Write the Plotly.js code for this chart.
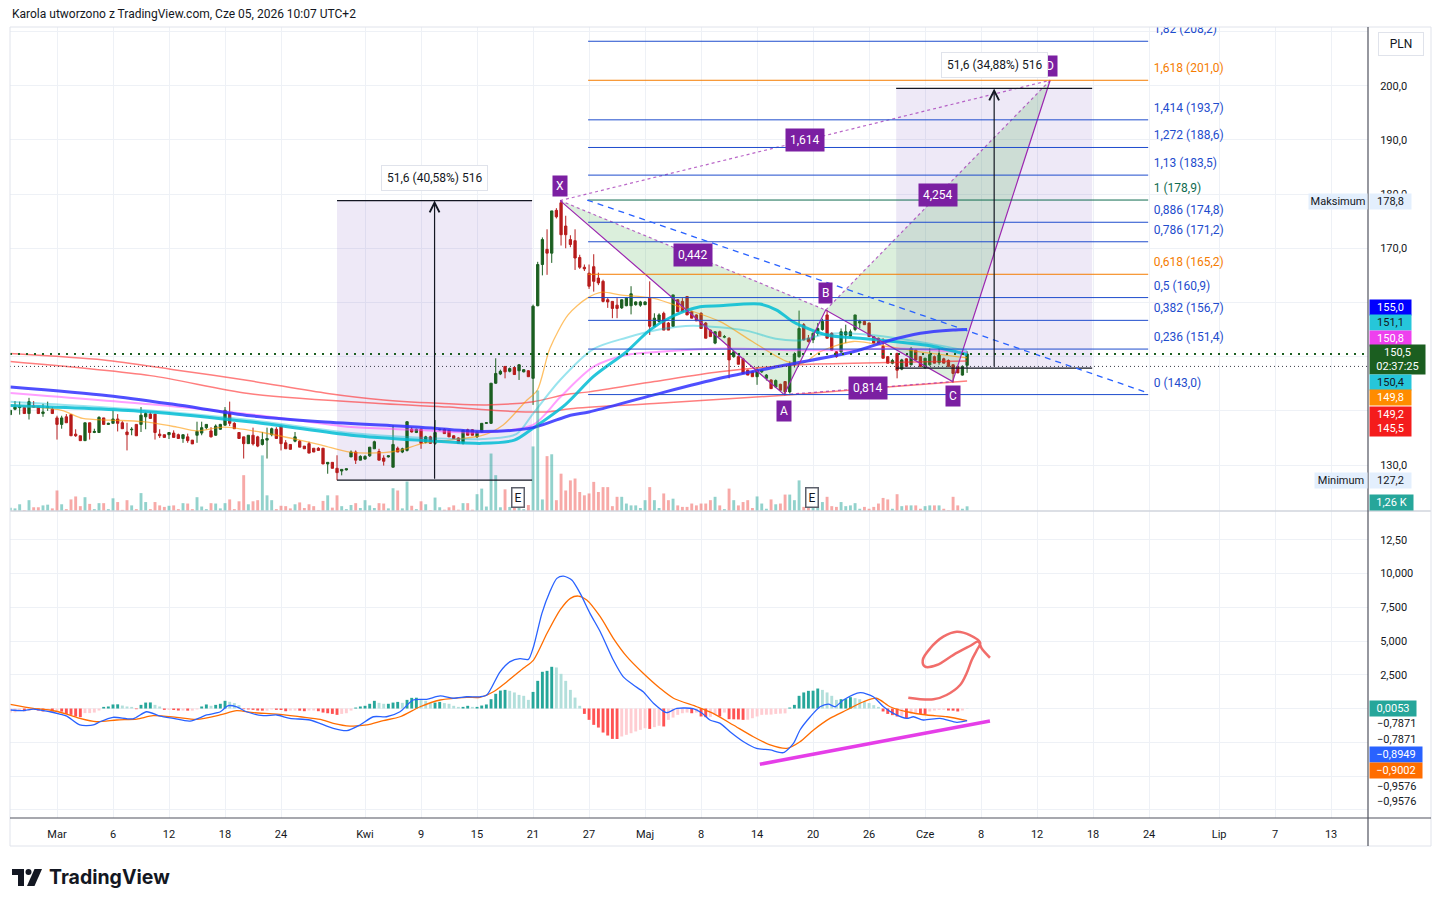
<!DOCTYPE html>
<html><head><meta charset="utf-8">
<script src="https://cdn.plot.ly/plotly-3.0.1.min.js"></script>
<style>html,body{margin:0;padding:0;background:#fff;}#chart{width:1441px;height:907px;}</style>
</head><body><div id="chart"></div>
<script>
// ---------------- DATA (3-hour bars, first bar index = -10; bar 0 = 2 Mar 2026) ----------------
const FIRST_BAR = -10;
const openP = [
139.3,140.3,140.6,140.6,139.5,140.9,140.7,139.5,140.6,140.3,
138.7,137.5,138.9,139.3,135.7,135.4,134.5,137.8,136.0,136.0,
138.7,137.5,137.7,138.5,137.8,136.1,136.5,137.5,137.5,138.9,
139.4,139.4,135.7,135.6,135.6,135.9,135.6,134.9,135.2,134.6,
135.5,135.9,136.9,136.3,135.5,136.6,137.35,139.5,137.7,136.0,
135.2,133.95,135.5,135.2,133.8,134.6,135.6,136.6,137.2,134.1,
133.8,134.4,134.4,133.5,133.95,133.1,133.1,133.1,130.2,130.5,
129.4,128.9,129.1,131.5,132.4,130.9,131.1,131.7,133.0,132.5,
131.3,131.5,129.6,133.1,132.4,132.7,136.6,136.0,136.6,134.2,
135.2,134.0,136.5,136.6,136.4,135.4,135.0,134.0,136.5,136.5,
135.2,136.1,137.7,137.7,145.1,146.8,148.2,147.3,148.0,147.4,
147.2,147.4,146.0,159.4,167.0,169.8,169.1,177.0,178.4,174.1,
171.6,171.4,168.3,166.5,165.4,166.6,164.5,163.9,160.5,160.2,
159.5,159.0,159.4,159.4,159.6,159.5,159.6,160.8,155.6,156.5,
158.0,156.2,155.6,160.5,160.2,161.1,158.3,157.7,158.0,156.2,
154.9,152.5,154.6,153.6,153.4,150.0,150.0,149.6,147.5,147.2,
146.3,147.2,146.0,145.7,144.4,144.9,145.4,143.5,148.5,150.0,
155.9,153.4,153.1,154.3,155.0,157.7,154.3,150.9,150.9,154.0,
153.8,155.0,156.2,156.5,156.2,153.7,153.4,151.9,150.0,148.8,
150.6,147.7,149.6,148.5,151.2,150.0,147.9,148.5,150.0,148.9,
149.6,149.3,148.5,148.2,146.6,148.4];
const highP = [
140.1,141.8,141.7,140.6,142.4,141.8,140.7,141.3,141.7,140.7,
139.1,139.1,139.4,139.3,136.6,135.4,137.8,137.8,136.7,139.0,
138.7,137.8,140.1,139.4,138.1,137.8,137.0,137.5,140.7,139.8,
139.8,139.4,136.6,135.6,136.0,136.4,135.8,135.6,135.8,134.6,
138.0,138.0,137.5,137.0,137.5,137.6,140.7,141.7,137.9,136.0,
135.2,135.5,136.9,135.4,136.1,136.9,136.9,137.0,137.2,134.6,
133.8,136.1,134.6,133.5,134.3,133.1,133.3,133.1,130.5,130.5,
131.8,129.2,129.3,132.7,132.7,131.8,131.8,133.3,134.5,133.0,
131.8,131.8,137.35,133.4,133.2,138.0,137.0,136.7,136.8,135.4,
135.4,138.3,136.7,136.8,136.5,135.5,135.1,136.5,136.7,136.6,
136.2,137.7,137.9,145.1,149.7,147.6,148.2,148.0,148.1,148.6,
147.7,147.5,159.6,167.5,172.0,173.5,176.9,177.4,178.8,176.0,
172.4,173.5,168.8,167.0,167.0,168.9,165.5,164.2,160.8,160.2,
160.8,160.6,161.0,163.0,160.2,160.3,160.2,163.9,158.0,158.0,
158.3,156.4,161.4,160.6,160.8,161.2,158.5,157.8,158.2,156.4,
155.0,154.7,154.8,154.0,153.6,151.0,150.2,149.8,147.6,147.3,
148.1,147.6,146.8,145.8,145.8,145.0,145.5,149.1,150.8,158.5,
156.2,154.0,154.5,156.2,157.0,158.6,154.5,151.0,155.2,155.9,
155.0,157.7,156.8,156.7,156.3,153.8,153.5,153.4,150.1,149.6,
150.7,149.6,149.7,151.8,151.3,150.1,149.8,151.5,150.2,151.5,
149.8,149.5,148.6,148.3,148.4,151.0];
const lowP = [
139.3,140.1,139.3,139.5,138.4,140.6,139.5,138.9,140.0,139.5,
134.7,136.7,137.8,135.4,135.2,134.5,134.5,134.7,135.9,136.0,
137.5,137.4,137.7,136.2,136.7,132.7,135.5,135.4,136.1,136.6,
138.5,134.7,135.0,135.1,134.8,135.1,134.9,134.1,134.1,133.9,
134.1,135.5,136.6,135.1,135.4,136.5,137.35,137.2,136.7,134.9,
131.2,133.95,133.6,133.3,133.6,131.2,135.3,134.9,132.7,133.0,
132.9,134.2,133.3,133.0,132.2,132.4,132.7,130.2,128.4,129.4,
127.2,128.1,129.0,131.5,130.2,130.9,131.0,131.5,133.0,130.9,
129.9,131.4,129.6,132.4,132.2,132.5,136.0,135.9,133.0,134.0,
134.0,133.7,136.4,135.8,135.2,134.9,134.0,133.8,135.5,135.5,
135.0,136.0,137.6,137.6,145.0,146.6,146.0,147.1,146.7,145.7,
147.1,146.3,141.1,159.3,165.0,165.1,167.3,175.5,170.5,170.0,
170.2,166.0,166.2,165.8,162.5,162.0,163.2,160.0,159.0,157.1,
157.1,158.8,159.3,157.8,159.4,159.2,159.5,154.0,155.5,156.3,
154.9,154.9,155.5,158.3,158.3,157.7,157.1,156.6,155.2,153.4,
153.7,152.3,153.7,153.4,146.0,149.8,148.6,146.9,146.6,146.3,
144.8,147.0,145.6,144.1,144.2,143.8,143.0,143.2,148.0,149.8,
153.0,152.6,152.5,153.8,154.8,153.4,151.2,149.8,150.6,152.5,
153.5,154.7,155.2,155.9,153.7,152.5,152.5,149.7,148.8,148.6,
146.0,147.5,148.2,148.4,149.4,148.2,147.8,148.3,148.8,148.5,
148.8,148.2,145.2,147.0,146.5,147.0];
const closeP = [
140.1,140.7,140.7,139.5,141.7,140.7,139.5,139.8,140.7,139.5,
137.5,138.7,137.8,135.4,135.4,134.5,137.8,136.0,136.2,138.8,
137.5,137.7,138.5,137.7,136.7,135.6,136.6,135.4,139.2,139.5,
138.6,136.0,135.4,135.1,136.0,135.1,134.9,135.6,134.5,133.9,
136.2,136.9,137.5,135.2,137.2,137.5,140.1,137.7,136.7,134.9,
133.95,135.5,133.9,133.5,134.7,134.9,136.7,134.9,133.95,133.0,
132.9,135.2,133.3,133.0,132.2,132.4,132.7,130.2,130.5,129.4,
128.6,129.2,129.3,132.4,130.9,131.6,131.6,133.3,134.3,130.9,
130.7,131.7,133.8,132.4,133.0,138.0,136.1,136.6,134.0,135.2,
134.0,136.0,136.6,135.8,135.2,134.9,134.0,136.4,135.5,135.5,
136.1,137.7,137.8,145.1,146.9,147.3,147.2,147.8,146.7,148.5,
147.6,146.3,159.3,167.0,171.6,169.1,176.9,175.8,172.5,172.5,
170.7,168.2,166.5,166.2,163.0,163.9,163.6,160.2,160.1,158.9,
158.9,160.5,160.8,161.6,160.1,160.1,160.1,155.6,157.1,157.7,
154.9,154.9,161.4,158.3,158.3,157.7,157.1,156.6,155.2,153.4,
153.7,154.6,153.7,153.7,149.4,150.9,148.6,146.9,146.6,146.3,
147.5,147.5,146.6,144.1,145.6,143.8,143.5,148.5,150.5,155.2,
153.1,152.8,154.3,155.2,156.5,153.4,151.2,150.0,154.6,154.6,
154.6,157.7,156.5,155.9,153.7,152.5,152.5,149.7,148.8,149.3,
147.5,149.4,148.2,151.5,149.4,148.2,149.7,150.4,148.8,150.3,
148.8,148.2,146.9,147.0,148.2,150.5];
// volume in thousands
const volumeK = [
0.9,0.7,1.8,0.2,2.9,1.0,1.0,1.5,1.7,0.7,
5.5,1.8,0.5,3.1,3.9,1.3,3.7,1.9,0.5,2.1,
2.1,0.5,3.4,2.4,0.3,2.9,1.5,0.5,4.8,2.4,
0.5,2.4,1.5,1.1,1.4,1.5,0.5,2.1,2.0,0.5,
3.7,1.2,0.5,2.1,2.0,0.7,2.1,3.1,0.5,2.6,
9.6,1.8,2.6,2.9,14.9,4.2,2.9,0.5,1.4,1.3,
0.7,1.8,2.3,0.8,1.8,1.3,0.2,2.7,4.2,0.9,
4.2,1.3,0.5,1.6,2.1,0.8,2.9,1.5,0.8,2.1,
2.0,0.7,6.1,5.5,0.7,7.9,1.4,0.5,2.6,1.8,
0.2,3.6,1.0,0.35,1.0,1.5,0.35,2.1,2.1,0.35,
4.5,6.0,1.2,15.4,9.6,1.0,5.8,1.1,0.8,1.3,
0.5,1.6,17.3,32.3,3.1,14.7,15.2,2.9,10.0,5.5,
8.2,8.7,5.1,4.2,4.7,7.8,5.1,6.4,6.4,1.3,
3.8,3.8,2.0,1.5,1.5,0.8,2.9,6.4,2.9,0.8,
4.7,2.9,3.3,1.5,1.1,1.1,2.0,1.5,2.0,2.0,
2.9,3.8,1.5,0.5,6.0,2.9,1.5,2.4,2.9,0.8,
3.9,2.0,0.6,3.1,1.8,2.0,4.4,4.4,2.9,8.2,
1.1,1.3,1.3,1.3,2.4,3.8,1.3,1.1,2.4,1.3,
1.5,2.1,0.6,1.1,0.6,1.1,2.0,3.5,3.1,0.6,
4.5,1.3,1.5,1.5,1.5,0.6,1.3,1.5,1.5,1.5,
0.6,0.2,3.8,1.5,0.6,1.26];
// MACD histogram per bar
const macdHist = [
-0.30,-0.28,-0.15,-0.20,-0.18,-0.10,-0.15,-0.22,-0.15,-0.22,
-0.22,-0.23,-0.40,-0.47,-0.59,-0.64,-0.34,-0.34,-0.30,-0.15,
0.12,0.15,0.30,0.31,0.22,0.15,0.12,-0.05,0.27,0.44,
0.45,0.27,0.15,-0.10,-0.10,-0.11,-0.15,-0.15,-0.16,-0.16,
-0.07,0.15,0.30,0.20,0.27,0.35,0.57,0.50,0.40,0.25,
-0.05,-0.07,-0.10,-0.15,-0.16,-0.16,-0.07,-0.10,-0.11,-0.20,
-0.15,-0.15,-0.16,-0.20,-0.15,-0.15,-0.20,-0.30,-0.35,-0.40,
-0.47,-0.40,-0.35,-0.15,0.07,0.15,0.20,0.35,0.57,0.42,
0.35,0.35,0.44,0.49,0.42,0.64,0.79,0.80,0.64,0.57,
0.40,0.44,0.49,0.40,0.35,0.20,0.12,0.12,0.20,0.12,
0.12,0.22,0.30,0.69,1.09,1.33,1.38,1.31,1.19,1.01,
0.94,0.64,1.23,2.05,2.72,2.79,3.09,3.04,2.57,2.05,
1.38,0.81,0.20,-0.40,-0.84,-1.21,-1.41,-1.78,-2.00,-2.25,
-2.26,-2.07,-1.95,-1.83,-1.70,-1.58,-1.46,-1.51,-1.38,-1.28,
-1.33,-0.84,-0.67,-0.47,-0.35,-0.30,-0.35,-0.30,-0.59,-0.64,
-0.62,-0.47,-0.59,-0.30,-0.79,-0.80,-0.81,-0.84,-0.83,-0.72,
-0.59,-0.47,-0.46,-0.45,-0.40,-0.38,-0.36,0.07,0.27,0.94,
1.19,1.31,1.32,1.48,1.38,1.19,0.94,0.64,0.69,0.70,
0.84,0.77,0.69,0.52,0.40,0.25,0.12,-0.22,-0.40,-0.49,
-0.59,-0.54,-0.72,-0.40,-0.35,-0.40,-0.41,-0.22,-0.15,-0.10,
-0.09,-0.15,-0.16,-0.22,-0.15,0.0053];
// MACD and signal lines (read at points along the curves)
const macdBars = [-10,-7.2,-5.1,-1.5,0.6,2.1,4.9,7.8,9.2,12,16.3,19.2,22.1,24.9,28.5,32.1,35,36.7,38.5,40.6,44.2,47.1,49.9,54.2,59.2,62.1,64.9,67.8,70.6,73.5,76.3,79.2,82.1,84.9,87.8,90.6,92.1,94.9,97.1,99.2,101,102.1,103.9,105.6,107.1,108.5,110.3,112.1,114.2,116.4,119.2,121.3,123.5,125.6,127.8,130.6,132.8,136.3,138.1,139.9,142.1,144.2,147.1,149.9,152.8,155.6,157.8,159.2,161.4,163.5,165.3,166.7,168.5,172.1,174.9,177.1,179.2,182.1,183.5,185.6,189.2,192.8,195];
const macdVals = [-0.11,-0.16,-0.04,-0.24,-0.41,-0.56,-1.22,-1.22,-0.98,-0.65,-0.76,-0.24,-0.56,-0.73,-0.93,-0.48,-0.24,0.21,0.13,-0.24,-0.53,-0.48,-0.73,-0.85,-1.47,-1.64,-1.22,-0.61,-0.61,-0.24,0.63,0.68,0.93,0.76,0.87,0.87,1.0,2.7,3.47,3.69,3.64,4.58,7.05,8.65,9.64,9.81,9.52,8.53,7.05,5.69,3.59,2.36,1.74,1.24,0.39,-0.31,0.01,-0.01,-0.31,-0.85,-1.10,-1.72,-2.46,-2.95,-3.07,-3.27,-2.58,-1.59,-0.61,0.13,0.33,0.13,0.63,1.17,0.87,0.13,-0.36,-0.73,-0.61,-0.85,-0.73,-1.02,-0.8949];
const signalBars = [-10,-5.1,-1.5,2.1,4.9,8.5,12.8,17.1,20.6,25.6,29.9,34.9,38.5,42.1,47.1,52.1,56.4,59.2,62.8,66.4,69.9,73.5,77.8,82.1,87.8,90.6,93.5,96.4,99.9,102.1,105,107.8,110,111.7,113.5,116.4,119.2,122.1,125.6,129.2,132.1,137.1,140.6,144.9,149.2,152.8,156.4,159.2,162.1,165.6,169.2,172.8,175.6,178.5,182.1,186.4,190.7,195];
const signalVals = [0.31,0.01,-0.11,-0.41,-0.73,-0.98,-0.85,-0.78,-0.53,-0.65,-0.80,-0.48,-0.16,-0.31,-0.41,-0.61,-0.80,-1.10,-1.30,-1.22,-0.90,-0.61,0.13,0.63,0.83,0.83,1.24,1.99,2.98,3.59,5.57,7.30,8.16,8.33,8.04,6.80,5.20,3.84,2.61,1.50,0.76,0.13,-0.36,-1.22,-2.09,-2.70,-2.95,-2.46,-1.59,-0.73,-0.11,0.50,0.76,0.13,-0.24,-0.48,-0.61,-0.9002];
// moving averages (read at points along each curve)
const maBlueBars = [-10,11,25,41.4,56.6,77,91.3,102,110,114,127.7,142,156.4,170.6,178,185,192,195];
const maBlueVals = [144.4,142.8,141.2,139.1,138.0,137.0,136.2,136.9,139.2,139.8,142.9,146.0,148.5,150.9,152.9,154.3,154.9,155.0];
const maCyanBars = [-10,18.5,43,63,77,91,98,102,109,114.9,122,127,132,137.8,142,150.6,154.2,157.8,164.9,172,179.2,186.4,195];
const maCyanVals = [141.0,139.9,137.8,135.5,134.6,134.0,134.6,136.8,141.2,146.3,150.9,154.9,157.5,159.2,159.4,159.7,158.6,156.4,154.0,153.4,152.8,152.1,150.4];
const maPaleBars = [-10,18,41.4,63,77,91.3,98.4,102,107.8,114.9,122,129,136.2,147.6,154,159,164.9,172,179.2,186.4,195];
const maPaleVals = [141.7,140.2,138.3,135.9,135.1,134.8,135.7,139.5,145.7,151.4,153.5,155.0,155.7,154.8,153.3,153.0,154.2,154.2,153.5,152.5,151.1];
const maPinkBars = [-10,20,43,63,77,91.3,102,107.8,114.9,122,129,143.3,157.6,168.3,179,195];
const maPinkVals = [143.3,141.2,139.2,137.0,136.5,136.0,137.4,142.5,148.1,150.3,150.9,151.5,151.2,151.2,151.5,150.8];
const maOrangeBars = [-10,1,5.5,11.4,18.4,25.7,30,35.6,43.5,52,57,62.8,70,73.5,78.4,84.2,91.3,95.6,100.7,102.9,105.6,109.5,113.6,116.8,120.6,127.7,135,142,149,156.4,159.9,163.5,170.6,177.8,184.9,195];
const maOrangeVals = [141.0,140.1,138.6,138.3,138.0,137.0,136.3,137.0,136.1,134.6,133.6,132.4,132.3,132.7,134.0,134.6,135.5,137.4,142.0,143.8,151.5,157.7,160.8,161.9,161.4,160.8,158.7,156.5,152.8,149.1,148.8,150.9,152.8,151.9,150.9,149.8];
const maRed1Bars = [-10,10,25,41,58,70,84,92,102,109,114,128,142,159,178,195];
const maRed1Vals = [150.6,149.4,147.6,145.6,143.2,142.0,141.3,141.1,141.7,143.0,143.5,145.4,147.2,148.5,148.9,149.2];
const maRed2Bars = [-10,20,41,70,84,95,105,110,128,156,178,195];
const maRed2Vals = [149.1,146.5,143.2,141.3,140.7,140.0,139.8,140.4,141.35,142.9,144.4,145.5];
// x-axis ticks
const tickBars = [0,12,24,36,48,66,78,90,102,114,126,138,150,162,174,186,198,210,222,234,249,261,273];
const tickLabels = ['Mar','6','12','18','24','Kwi','9','15','21','27','Maj','8','14','20','26','Cze','8','12','18','24','Lip','7','13'];
// price-scale ticks (labels hidden where the reference covers them with value tags)
const priceTicks = [130,140,150,160,170,180,190,200,210];
const priceTickText = ['130,0','','','','170,0','180,0','190,0','200,0',''];
const macdTicks = [-7.5,-5,-2.5,0,2.5,5,7.5,10,12.5];
const macdTickText = ['','','','','2,500','5,000','7,500','10,000','12,50'];
// drawings
const fibRatios = [0,0.236,0.382,0.5,0.618,0.786,0.886,1,1.13,1.272,1.414,1.618,1.82];
const fibPrices = [143.0,151.4,156.7,160.9,165.2,171.2,174.8,178.9,183.5,188.6,193.7,201.0,208.2];
const fibBars = [113.8,233.8];
const xabcdBars = [107.8,155.8,164.7,191.9,212.8];
const xabcdVals = [178.8,143.0,158.6,145.4,201.0];
const xabcdNames = ['X','A','B','C','D'];
const xabcdRatioPairs = [[0,2],[1,3],[2,4],[0,4]];
const xabcdRatioText = ['0,442','0,814','4,254','1,614'];
const trendBars = [113.6,233.8];
const trendVals = [178.9,143.3];
const rangeBarsFrom = [60,179.8];
const rangeBarsTo = [101.8,221.8];
const rangeLow = [127.2,147.9];
const rangeHigh = [178.8,199.5];
const rangeText = ['51,6 (40,58%) 516','51,6 (34,88%) 516'];
const earningsBars = [98.8,161.8];
const macdTrendBars = [150.6,199.9];
const macdTrendVals = [-4.13,-0.93];
const scribbleBars = [182.4,187.8,190.6,193.5,194.9,196.0,197.1,197.8,195.6,192.8,189.9,187.1,185.5,186.0,188.5,192.0,195.6,197.4,198.1,199.9];
const scribbleVals = [0.80,0.68,1.0,1.74,2.61,3.59,4.33,4.87,5.44,5.69,5.32,4.46,3.59,3.10,3.22,3.96,4.63,4.95,4.46,3.76];
const lastPrice = 150.5;

// ---------------- RENDER ----------------
const FONT = 'Roboto, "Liberation Sans", Arial, sans-serif';
const GRID = '#eef1f6';
const L=10, R=1368, T=27, B=818;
const px = x => (x-L)/(R-L);
const py = y => (B-y)/(B-T);
const SPLIT = py(511);
const PRICE_PER_PX = (210.83-121.52)/(511-27);

const bars = openP.map((_,i)=>FIRST_BAR+i);
const volColors = closeP.map((c,i)=> c>=openP[i] ? 'rgba(38,166,154,0.5)' : 'rgba(239,83,80,0.5)');
const histColors = macdHist.map((v,i)=>{const p=i>0?macdHist[i-1]:v; if(v>=0) return v>=p?'#26a69a':'#b2dfdb'; return v<p?'#ff5252':'#ffcdd2';});
const prevClose = closeP[closeP.length-2];

const traces = [];
[[0,1,2],[2,3,4]].forEach(tri=>{
  traces.push({type:'scatter',mode:'lines',x:[...tri.map(i=>xabcdBars[i]),xabcdBars[tri[0]]],
    y:[...tri.map(i=>xabcdVals[i]),xabcdVals[tri[0]]],fill:'toself',fillcolor:'rgba(76,175,80,0.2)',
    line:{width:0},xaxis:'x',yaxis:'y',hoverinfo:'skip'});
});
function ma(xs,ys,color,width){traces.push({type:'scatter',mode:'lines',x:xs,y:ys,xaxis:'x',yaxis:'y',
  line:{color:color,width:width,shape:'spline',smoothing:0.8},hoverinfo:'skip'});}
ma(maRed2Bars,maRed2Vals,'rgba(255,40,40,0.6)',1.5);
ma(maRed1Bars,maRed1Vals,'rgba(255,40,40,0.6)',1.5);
ma(maOrangeBars,maOrangeVals,'rgba(255,152,0,0.6)',1.3);
ma(maPinkBars,maPinkVals,'rgba(255,64,255,0.5)',2);
ma(maPaleBars,maPaleVals,'rgba(0,188,212,0.4)',2);
ma(maCyanBars,maCyanVals,'rgba(0,188,212,0.85)',3);
ma(maBlueBars,maBlueVals,'rgba(48,48,255,0.85)',3);
traces.push({type:'candlestick',x:bars,open:openP,high:highP,low:lowP,close:closeP,xaxis:'x',yaxis:'y',
  increasing:{line:{color:'#1b5e20',width:1},fillcolor:'#1b5e20'},
  decreasing:{line:{color:'#b71c1c',width:1},fillcolor:'#b71c1c'},whiskerwidth:0,hoverinfo:'skip'});
traces.push({type:'scatter',mode:'lines',x:xabcdBars,y:xabcdVals,xaxis:'x',yaxis:'y',line:{color:'#9c27b0',width:1.2},hoverinfo:'skip'});
xabcdRatioPairs.forEach(p=>{
  traces.push({type:'scatter',mode:'lines',x:[xabcdBars[p[0]],xabcdBars[p[1]]],y:[xabcdVals[p[0]],xabcdVals[p[1]]],
    xaxis:'x',yaxis:'y',line:{color:'rgba(156,39,176,0.7)',width:1.2,dash:'dot'},hoverinfo:'skip'});
});
const fibColor = r => (r===0.618||r===1.618)?'#f57c00':(r===1?'#0f6b4f':'#1e4ccd');
traces.push({type:'scatter',mode:'text',x:fibPrices.map(()=>fibBars[1]+1.2),y:fibPrices.map(p=>p+5*PRICE_PER_PX),
  text:fibRatios.map((r,i)=>String(r).replace('.',',')+' ('+fibPrices[i].toFixed(1).replace('.',',')+')'),
  textposition:'top right',textfont:{family:FONT,size:12,color:fibRatios.map(fibColor)},xaxis:'x',yaxis:'y',cliponaxis:true,hoverinfo:'skip'});
traces.push({type:'bar',x:bars,y:volumeK,width:0.62,marker:{color:volColors,line:{width:0}},xaxis:'x',yaxis:'y3',hoverinfo:'skip'});
traces.push({type:'bar',x:bars,y:macdHist,width:0.62,marker:{color:histColors,line:{width:0}},xaxis:'x',yaxis:'y2',hoverinfo:'skip'});
traces.push({type:'scatter',mode:'lines',x:signalBars,y:signalVals,xaxis:'x',yaxis:'y2',line:{color:'#ff6d00',width:1.3,shape:'spline',smoothing:0.7},hoverinfo:'skip'});
traces.push({type:'scatter',mode:'lines',x:macdBars,y:macdVals,xaxis:'x',yaxis:'y2',line:{color:'#2962ff',width:1.3,shape:'spline',smoothing:0.7},hoverinfo:'skip'});
traces.push({type:'scatter',mode:'lines',x:macdTrendBars,y:macdTrendVals,xaxis:'x',yaxis:'y2',line:{color:'#e53ee8',width:3.5},hoverinfo:'skip'});
traces.push({type:'scatter',mode:'lines',x:scribbleBars,y:scribbleVals,xaxis:'x',yaxis:'y2',line:{color:'rgba(239,83,80,0.85)',width:2.5,shape:'spline',smoothing:1},hoverinfo:'skip'});

const shapes = [];
rangeBarsFrom.forEach((b0,i)=>{
  shapes.push({type:'rect',xref:'x',yref:'y',x0:b0,x1:rangeBarsTo[i],y0:rangeLow[i],y1:rangeHigh[i],fillcolor:'rgba(103,58,183,0.11)',line:{width:0},layer:'between'});
  [rangeLow[i],rangeHigh[i]].forEach(v=>shapes.push({type:'line',xref:'x',yref:'y',x0:b0,x1:rangeBarsTo[i],y0:v,y1:v,line:{color:'#131722',width:1.2},layer:'above'}));
});
fibPrices.forEach((p,i)=>{
  shapes.push({type:'line',xref:'x',yref:'y',x0:fibBars[0],x1:fibBars[1],y0:p,y1:p,line:{color:fibColor(fibRatios[i]),width:1},layer:'above'});
});
shapes.push({type:'line',xref:'x',yref:'y',x0:trendBars[0],x1:trendBars[1],y0:trendVals[0],y1:trendVals[1],line:{color:'#2962ff',width:1.3,dash:'6px,5px'},layer:'above'});
shapes.push({type:'line',xref:'paper',yref:'y',x0:0,x1:1,y0:lastPrice,y1:lastPrice,line:{color:'#1b5e20',width:2,dash:'2px,6px'},layer:'above'});
shapes.push({type:'line',xref:'paper',yref:'y',x0:0,x1:1,y0:prevClose,y1:prevClose,line:{color:'#3a3d48',width:1,dash:'1px,3px'},layer:'above'});
const XR = px(1431);
shapes.push({type:'line',xref:'paper',yref:'paper',x0:0,x1:XR,y0:SPLIT,y1:SPLIT,line:{color:'#d1d4dc',width:1.5}});
shapes.push({type:'rect',xref:'paper',yref:'paper',x0:0,x1:XR,y0:py(846),y1:1,line:{color:'#e0e3eb',width:1}});
shapes.push({type:'line',xref:'paper',yref:'paper',x0:0,x1:XR,y0:0,y1:0,line:{color:'#50535e',width:1.2}});
shapes.push({type:'line',xref:'paper',yref:'paper',x0:1,x1:1,y0:py(846),y1:1,line:{color:'#50535e',width:1.2}});
const P=(x,y)=>px(x)+','+py(y);
shapes.push({type:'path',xref:'paper',yref:'paper',path:'M'+P(12,869)+'L'+P(24,869)+'L'+P(24,886)+'L'+P(18,886)+'L'+P(18,875)+'L'+P(12,875)+'Z',fillcolor:'#131722',line:{width:0}});
shapes.push({type:'circle',xref:'paper',yref:'paper',x0:px(25.5),x1:px(31.5),y0:py(875),y1:py(869),fillcolor:'#131722',line:{width:0}});
shapes.push({type:'path',xref:'paper',yref:'paper',path:'M'+P(27,886)+'L'+P(34.5,869)+'L'+P(42,869)+'L'+P(34.5,886)+'Z',fillcolor:'#131722',line:{width:0}});

const ann = [];
ann.push({xref:'paper',yref:'paper',x:0,y:py(14),xanchor:'left',yanchor:'middle',showarrow:false,
  text:'Karola utworzono z TradingView.com, Cze 05, 2026 10:07 UTC+2',font:{family:FONT,size:12,color:'#131722'}});
ann.push({xref:'paper',yref:'paper',x:px(47),y:py(877),xanchor:'left',yanchor:'middle',showarrow:false,
  text:'<b>TradingView</b>',font:{family:'Inter, Roboto, sans-serif',size:19.5,color:'#131722'}});
rangeBarsFrom.forEach((b0,i)=>{
  const mid=(b0+rangeBarsTo[i])/2;
  ann.push({xref:'x',yref:'y',axref:'x',ayref:'y',x:mid,y:rangeHigh[i],ax:mid,ay:rangeLow[i],text:'',showarrow:true,
    arrowhead:5,arrowsize:1.6,arrowwidth:1.2,arrowcolor:'#131722'});
});
const nameShift=[15,-16,17,-14,14];
xabcdNames.forEach((n,i)=>ann.push({xref:'x',yref:'y',x:xabcdBars[i],y:xabcdVals[i],yshift:nameShift[i],text:n,showarrow:false,
  bgcolor:'#7b1fa2',borderpad:3,font:{family:FONT,size:12,color:'#ffffff'}}));
xabcdRatioPairs.forEach((p,i)=>ann.push({xref:'x',yref:'y',x:(xabcdBars[p[0]]+xabcdBars[p[1]])/2,y:(xabcdVals[p[0]]+xabcdVals[p[1]])/2,
  text:xabcdRatioText[i],showarrow:false,bgcolor:'#7b1fa2',borderpad:4,font:{family:FONT,size:12,color:'#ffffff'}}));
rangeBarsFrom.forEach((b0,i)=>{
  const mid=(b0+rangeBarsTo[i])/2;
  ann.push({xref:'x',yref:'y',x:mid,y:rangeHigh[i],yshift:23,text:rangeText[i],showarrow:false,bgcolor:'#ffffff',
    bordercolor:'#e0e3eb',borderwidth:1,borderpad:5,font:{family:FONT,size:12,color:'#131722'}});
});
earningsBars.forEach(b=>ann.push({xref:'x',yref:'paper',x:b,y:py(497),text:'E',showarrow:false,bgcolor:'#ffffff',
  bordercolor:'#5d606b',borderwidth:1.5,borderpad:2,font:{family:FONT,size:12,color:'#131722'}}));
function box(yPix,text,bg,fg,w){ann.push({xref:'paper',yref:'paper',x:px(1369),y:py(yPix),xanchor:'left',yanchor:'middle',
  text:text,showarrow:false,bgcolor:bg,borderpad:1,width:w,align:'center',font:{family:FONT,size:11,color:fg}});}
function plain(yPix,text){ann.push({xref:'paper',yref:'paper',x:px(1375),y:py(yPix),xanchor:'left',yanchor:'middle',
  text:text,showarrow:false,font:{family:FONT,size:11,color:'#131722'}});}
ann.push({xref:'paper',yref:'paper',x:px(1401),y:py(44),xanchor:'center',yanchor:'middle',text:'PLN',showarrow:false,
  bgcolor:'#ffffff',bordercolor:'#e0e3eb',borderwidth:1,borderpad:4,width:36,font:{family:FONT,size:12,color:'#131722'}});
ann.push({xref:'paper',yref:'paper',x:px(1368),y:py(201.5),xanchor:'right',yanchor:'middle',text:'Maksimum',showarrow:false,
  bgcolor:'#e3effd',borderpad:1,width:56,align:'center',font:{family:FONT,size:11,color:'#131722'}});
box(201.5,'178,8','#e3effd','#131722',39);
ann.push({xref:'paper',yref:'paper',x:px(1368),y:py(480.3),xanchor:'right',yanchor:'middle',text:'Minimum',showarrow:false,
  bgcolor:'#e3effd',borderpad:1,width:50,align:'center',font:{family:FONT,size:11,color:'#131722'}});
box(480.3,'127,2','#e3effd','#131722',39);
box(307.3,'155,0','#0000ff','#ffffff',39);
box(322.3,'151,1','#26c6da','#131722',39);
box(338.3,'150,8','#ee40ee','#ffffff',39);
box(360,'150,5<br>02:37:25','#1b5e20','#ffffff',53);
box(382.3,'150,4','#26c6da','#131722',39);
box(397.7,'149,8','#ff8c00','#ffffff',39);
box(421.5,'149,2<br>145,5','#f41c1c','#ffffff',39);
box(502.7,'1,26 K','#26a69a','#ffffff',41);
box(708.3,'0,0053','#26a69a','#ffffff',44);
plain(723.3,'−0,7871');
plain(739.3,'−0,7871');
box(754.3,'−0,8949','#2962ff','#ffffff',50);
box(770,'−0,9002','#ff6d00','#ffffff',50);
plain(786.7,'−0,9576');
plain(801.7,'−0,9576');

const layout = {
  width:1441,height:907,margin:{l:L,r:1441-R,t:T,b:907-B,pad:0},
  paper_bgcolor:'#ffffff',plot_bgcolor:'#ffffff',showlegend:false,barmode:'overlay',
  font:{family:FONT,size:11,color:'#131722'},
  xaxis:{domain:[0,1],range:[-10.07,280.9],anchor:'y2',tickvals:tickBars,ticktext:tickLabels,showgrid:true,gridcolor:GRID,
    zeroline:false,showline:false,ticks:'outside',ticklen:6,tickcolor:'rgba(0,0,0,0)',tickfont:{family:FONT,size:11,color:'#131722'},
    rangeslider:{visible:false},fixedrange:true},
  yaxis:{domain:[SPLIT,1],range:[121.52,210.83],side:'right',anchor:'x',tickvals:priceTicks,ticktext:priceTickText,
    showgrid:true,gridcolor:GRID,zeroline:false,showline:false,
    ticks:'outside',ticklen:9,tickcolor:'rgba(0,0,0,0)',tickfont:{family:FONT,size:11,color:'#131722'}},
  yaxis3:{overlaying:'y',anchor:'x',range:[0,129.7],visible:false,side:'right'},
  yaxis2:{domain:[0,SPLIT],range:[-8.11,14.63],side:'right',anchor:'x',tickvals:macdTicks,ticktext:macdTickText,showgrid:true,gridcolor:GRID,
    zeroline:false,showline:false,ticks:'outside',ticklen:9,tickcolor:'rgba(0,0,0,0)',tickfont:{family:FONT,size:11,color:'#131722'}},
  shapes:shapes,annotations:ann
};
Plotly.newPlot('chart',traces,layout,{staticPlot:true,displayModeBar:false});
</script></body></html>
